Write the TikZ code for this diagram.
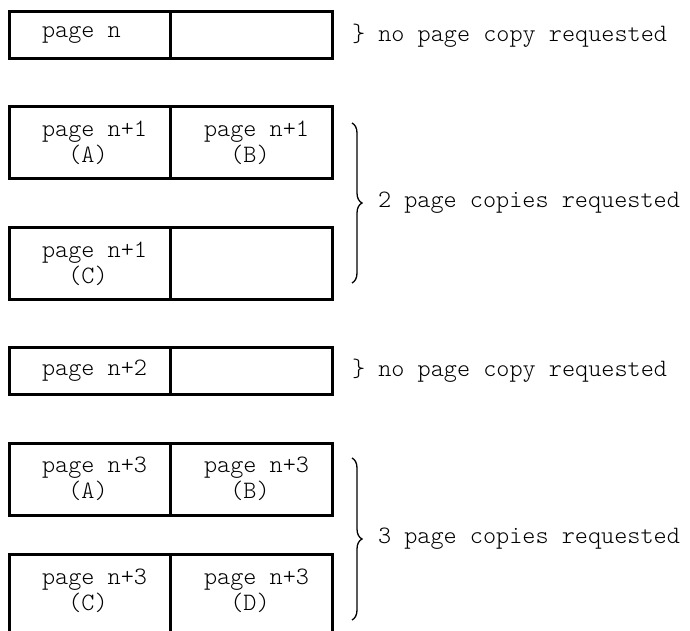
\documentclass[tikz,border=0pt]{standalone}
\usepackage{fontspec}
\setmonofont{lmmonolt10-regular.otf}
\usetikzlibrary{decorations.pathreplacing}

\begin{document}
\begin{tikzpicture}[x=1pt, y=-1pt]
\tikzset{ inner sep=0pt, outer sep=0pt, font=\ttfamily\fontsize{25}{26}\selectfont,
  cell/.style={draw, line width=3pt, anchor=north west, minimum width=161pt},
  wide/.style={minimum width=162pt},
  short/.style={minimum height=47pt},
  tall/.style={minimum height=72pt},
  txt/.style={anchor=west, align=left},
  copybrace/.style={decorate, decoration={brace, amplitude=10pt}, line width=1.3pt},
}

\useasboundingbox (0,0) rectangle (690,631);

%\draw [lightgray, dashed] (0,0) grid (690,631);

% page n
\node [cell, short]       (N0l) at (9,12)  {};
\node [cell, short, wide] (N0r) at (170,12) {};
\node [txt] (T0l) at (42,35.5) {page n};

% page n+1
\node [cell, tall]       (N1a) at (9,107)   {};
\node [cell, tall, wide] (N1b) at (170,107) {};
\node [cell, tall]       (N1c) at (9,227.5) {};
\node [cell, tall, wide] (N1d) at (170,227.5) {};
\node [txt] (T1a) at (42,143)    {page n+1\\\hphantom{pa}(A)};
\node [txt] (T1b) at (204,143)   {page n+1\\\hphantom{pa}(B)};
\node [txt] (T1c) at (42,263.5)  {page n+1\\\hphantom{pa}(C)};

% page n+2
\node [cell, short]       (N2l) at (9,347.5)   {};
\node [cell, short, wide] (N2r) at (170,347.5) {};
\node [txt] (T2l) at (42,371) {page n+2};

% page n+3
\node [cell, tall]       (N3a) at (9,443)   {};
\node [cell, tall, wide] (N3b) at (170,443) {};
\node [cell, minimum height=80pt]       (N3c) at (9,554)   {};
\node [cell, minimum height=80pt, wide] (N3d) at (170,554) {};
\node [txt] (T3a) at (42,479)  {page n+3\\\hphantom{pa}(A)};
\node [txt] (T3b) at (204,479) {page n+3\\\hphantom{pa}(B)};
\node [txt] (T3c) at (42,591)  {page n+3\\\hphantom{pa}(C)};
\node [txt] (T3d) at (204,591) {page n+3\\\hphantom{pa}(D)};

% braces
\coordinate (B1top) at (352,123);
\coordinate (B1bot) at (352,283);
\coordinate (B2top) at (352,458);
\coordinate (B2bot) at (352,620);
\draw [copybrace] (B1top) -- (B1bot);
\draw [copybrace] (B2top) -- (B2bot);

\node [txt] (L0) at (352,35.5) {\} no page copy requested};
\node [txt] (L1) at (378,203)  {2 page copies requested};
\node [txt] (L2) at (352,371)  {\} no page copy requested};
\node [txt] (L3) at (378,539)  {3 page copies requested};
\end{tikzpicture}
\end{document}
